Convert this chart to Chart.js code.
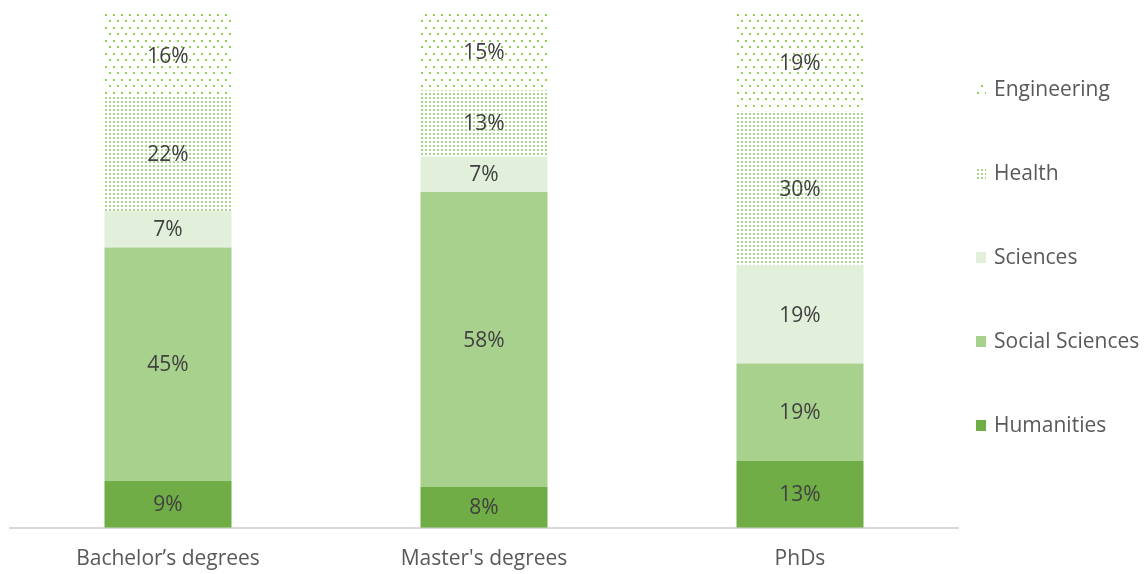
<!DOCTYPE html>
<html>
<head>
<meta charset="utf-8">
<script src="https://cdn.jsdelivr.net/npm/chart.js@4/dist/chart.umd.min.js"></script>
<style>
  html, body { margin: 0; padding: 0; background: #fff; }
  #wrap { width: 1144px; height: 574px; }
</style>
</head>
<body>
<div id="wrap"><canvas id="c" width="1144" height="574"></canvas></div>
<script>
const categories = ["Bachelor’s degrees", "Master's degrees", "PhDs"];

// percentages as printed on the bars
const humanities = [9, 8, 13];
const socialSciences = [45, 58, 19];
const sciences = [7, 7, 19];
const health = [22, 13, 30];
const engineering = [16, 15, 19];

const seriesNames = ["Humanities", "Social Sciences", "Sciences", "Health", "Engineering"];
const seriesValues = [humanities, socialSciences, sciences, health, engineering];

// 100% stacked: each column is scaled to its own total
const totals = categories.map((_, i) => seriesValues.reduce((s, arr) => s + arr[i], 0));

function dotPattern(w, h, dots, color, size) {
  const cv = document.createElement("canvas");
  cv.width = w;
  cv.height = h;
  const cx = cv.getContext("2d");
  cx.fillStyle = "#fff";
  cx.fillRect(0, 0, w, h);
  cx.fillStyle = color;
  for (const d of dots) cx.fillRect(d[0], d[1], size, size);
  return cx.createPattern(cv, "repeat");
}

const ctx = document.getElementById("c").getContext("2d");

const engPattern = dotPattern(8, 13, [[1, 1], [5, 7]], "#92d050", 2);
const healthPattern = dotPattern(4, 4, [[1, 1]], "#a9d88c", 2);

const fills = ["#70ad47", "#a9d18e", "#e2efda", healthPattern, engPattern];
const FONT = "21px 'Open Sans'";

// Etiquettes au centre de chaque segment
const barLabels = {
  id: "barLabels",
  afterDatasetsDraw(chart) {
    const c = chart.ctx;
    c.save();
    c.font = FONT;
    c.fillStyle = "#404040";
    c.textAlign = "center";
    c.textBaseline = "middle";
    chart.data.datasets.forEach((ds, di) => {
      const meta = chart.getDatasetMeta(di);
      meta.data.forEach((bar, i) => {
        const y = (bar.y + bar.base) / 2;
        c.fillText(seriesValues[di][i] + "%", bar.x, y + 1);
      });
    });
    c.restore();
  }
};

// Légende à droite, Engineering en haut
const sideLegend = {
  id: "sideLegend",
  afterDraw(chart) {
    const c = chart.ctx;
    c.save();
    c.font = FONT;
    c.textBaseline = "middle";
    c.textAlign = "left";
    const rows = [89, 173, 257, 341, 425];
    for (let k = 0; k < 5; k++) {
      const di = 4 - k;
      const y = rows[k];
      c.fillStyle = fills[di];
      c.fillRect(976, y - 5, 10, 11);
      c.fillStyle = "#595959";
      c.fillText(seriesNames[di], 994, y + 1);
    }
    c.restore();
  }
};

new Chart(ctx, {
  type: "bar",
  data: {
    labels: categories,
    datasets: seriesNames.map((name, di) => ({
      label: name,
      data: seriesValues[di].map((v, i) => (v / totals[i]) * 100),
      backgroundColor: fills[di],
      borderWidth: 0,
      categoryPercentage: 1,
      barPercentage: 0.402
    }))
  },
  options: {
    responsive: false,
    animation: false,
    layout: { padding: { left: 10, right: 186, top: 14, bottom: -17 } },
    plugins: {
      legend: { display: false },
      tooltip: { enabled: false }
    },
    scales: {
      x: {
        stacked: true,
        grid: { display: false, drawTicks: false },
        border: { color: "#d9d9d9", width: 2 },
        ticks: {
          color: "#595959",
          font: { family: "Open Sans", size: 21 },
          padding: 19
        }
      },
      y: {
        stacked: true,
        display: false,
        min: 0,
        max: 100
      }
    }
  },
  plugins: [barLabels, sideLegend]
});
</script>
</body>
</html>
